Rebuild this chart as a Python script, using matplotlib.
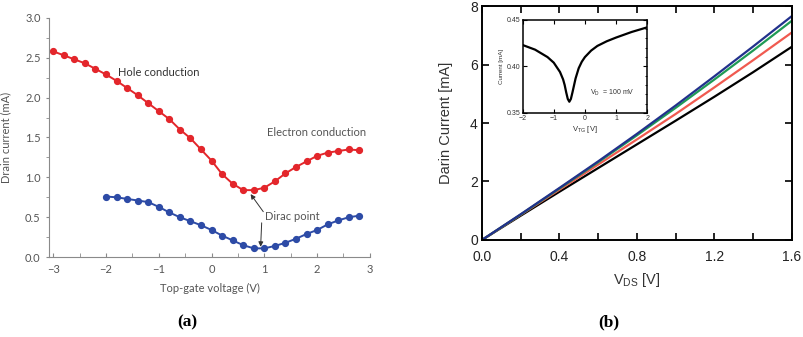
import matplotlib
matplotlib.use("Agg")
import matplotlib.pyplot as plt
from matplotlib.ticker import MultipleLocator
import numpy as np

plt.rcParams["mathtext.default"] = "regular"

# ---- panel (a): drain current vs top-gate voltage ----
vg_red = [-3.0, -2.8, -2.6, -2.4, -2.2, -2.0, -1.8, -1.6, -1.4, -1.2, -1.0,
          -0.8, -0.6, -0.4, -0.2, 0.0, 0.2, 0.4, 0.6, 0.8, 1.0, 1.2, 1.4,
          1.6, 1.8, 2.0, 2.2, 2.4, 2.6, 2.8]
id_red = [2.58, 2.53, 2.48, 2.43, 2.36, 2.29, 2.21, 2.12, 2.03, 1.93, 1.83,
          1.73, 1.60, 1.49, 1.35, 1.21, 1.04, 0.92, 0.84, 0.84, 0.87, 0.95,
          1.05, 1.13, 1.20, 1.27, 1.31, 1.33, 1.35, 1.34]
vg_blue = [-2.0, -1.8, -1.6, -1.4, -1.2, -1.0, -0.8, -0.6, -0.4, -0.2, 0.0,
           0.2, 0.4, 0.6, 0.8, 1.0, 1.2, 1.4, 1.6, 1.8, 2.0, 2.2, 2.4, 2.6, 2.8]
id_blue = [0.76, 0.75, 0.73, 0.71, 0.69, 0.63, 0.56, 0.50, 0.45, 0.40, 0.34,
           0.27, 0.21, 0.15, 0.11, 0.11, 0.14, 0.18, 0.23, 0.29, 0.34, 0.41,
           0.46, 0.50, 0.52]

# ---- panel (b): I-V curves ----
vds = [0.0, 0.2, 0.4, 0.6, 0.8, 1.0, 1.2, 1.4, 1.6]
id_black = [0.0, 0.83, 1.65, 2.46, 3.27, 4.08, 4.90, 5.74, 6.61]
id_salmon = [0.0, 0.86, 1.72, 2.58, 3.44, 4.31, 5.22, 6.15, 7.10]
id_green = [0.0, 0.87, 1.76, 2.66, 3.58, 4.52, 5.49, 6.48, 7.50]
id_navy = [0.0, 0.88, 1.78, 2.69, 3.63, 4.60, 5.60, 6.62, 7.66]

# inset: current vs V_TG
vtg = [-2.0, -1.6, -1.2, -1.0, -0.8, -0.7, -0.65, -0.6, -0.55, -0.5, -0.45,
       -0.4, -0.3, -0.2, -0.1, 0.0, 0.2, 0.4, 0.7, 1.0, 1.5, 2.0]
i_inset = [0.423, 0.418, 0.410, 0.404, 0.394, 0.386, 0.380, 0.372, 0.365,
           0.362, 0.365, 0.372, 0.387, 0.398, 0.405, 0.410, 0.417, 0.422,
           0.427, 0.431, 0.437, 0.442]

gray_txt = "#555555"
spine_gray = "#8a8a8a"
font_a = "Lato"
font_b = "Liberation Sans"

fig = plt.figure(figsize=(8.04, 3.37), dpi=100)

# ---------------- (a) ----------------
ax = fig.add_axes([0.061, 0.237, 0.399, 0.710])
ax.plot(vg_red, id_red, "-o", color="#e3262b", lw=1.4, ms=4.2)
ax.plot(vg_blue, id_blue, "-o", color="#2d4ba6", lw=1.4, ms=4.2)
ax.set_xlim(-3.08, 3.0)
ax.set_ylim(0, 3.0)
for s in ["top", "right"]:
    ax.spines[s].set_visible(False)
for s in ["left", "bottom"]:
    ax.spines[s].set_color(spine_gray)
    ax.spines[s].set_linewidth(0.8)
ax.xaxis.set_major_locator(MultipleLocator(1))
ax.xaxis.set_minor_locator(MultipleLocator(0.5))
ax.yaxis.set_major_locator(MultipleLocator(0.5))
ax.yaxis.set_minor_locator(MultipleLocator(0.25))
ax.tick_params(axis="x", which="both", direction="in", length=3,
               color=spine_gray, labelcolor=gray_txt, labelsize=8, pad=5)
ax.tick_params(axis="y", which="both", direction="out", length=2.5,
               color=spine_gray, labelcolor=gray_txt, labelsize=8)
ax.yaxis.set_major_formatter(plt.FormatStrFormatter("%.1f"))
for lab in ax.get_xticklabels() + ax.get_yticklabels():
    lab.set_family(font_a)
ax.set_xlabel("Top-gate voltage (V)", family=font_a, fontsize=8,
              color=gray_txt, labelpad=6)
ax.set_ylabel("Drain current (mA)", family=font_a, fontsize=8,
              color=gray_txt, labelpad=10)
ax.text(-1.77, 2.32, "Hole conduction", family=font_a, fontsize=8,
        color="#333333", va="center")
ax.text(1.05, 1.56, "Electron conduction", family=font_a, fontsize=8,
        color=gray_txt, va="center")
ax.text(1.02, 0.51, "Dirac point", family=font_a, fontsize=8,
        color=gray_txt, va="center")
ax.annotate("", xy=(0.74, 0.79), xytext=(0.98, 0.57),
            arrowprops=dict(arrowstyle="-|>", color="#333333", lw=0.7,
                            mutation_scale=7, shrinkA=0, shrinkB=0))
ax.annotate("", xy=(0.93, 0.13), xytext=(0.95, 0.43),
            arrowprops=dict(arrowstyle="-|>", color="#333333", lw=0.7,
                            mutation_scale=7, shrinkA=0, shrinkB=0))

# ---------------- (b) ----------------
bx = fig.add_axes([0.5995, 0.288, 0.3855, 0.694])
bx.plot(vds, id_black, color="black", lw=1.6)
bx.plot(vds, id_salmon, color="#f05a50", lw=1.6)
bx.plot(vds, id_green, color="#1f9a55", lw=1.6)
bx.plot(vds, id_navy, color="#22318c", lw=1.6)
bx.set_xlim(0, 1.6)
bx.set_ylim(0, 8)
for s in bx.spines.values():
    s.set_linewidth(1.4)
bx.xaxis.set_major_locator(MultipleLocator(0.4))
bx.xaxis.set_minor_locator(MultipleLocator(0.2))
bx.yaxis.set_major_locator(MultipleLocator(2))
bx.tick_params(which="both", direction="in", top=True, right=True,
               length=5, width=1.2, labelsize=10)
bx.tick_params(axis="x", which="both", pad=7)
bx.tick_params(axis="y", pad=3)
bx.xaxis.set_major_formatter(plt.FormatStrFormatter("%.1f"))
for lab in bx.get_xticklabels() + bx.get_yticklabels():
    lab.set_family(font_b)
    lab.set_color("#222222")
bx.set_xlabel("V$_{DS}$ [V]", family=font_b, fontsize=10.5,
              color="#333333", labelpad=5)
bx.set_ylabel("Darin Current [mA]", family=font_b, fontsize=10.5,
              color="#333333", labelpad=12)

# inset
ix = fig.add_axes([0.650, 0.665, 0.155, 0.276])
ix.plot(vtg, i_inset, color="black", lw=1.6)
ix.set_xlim(-2, 2)
ix.set_ylim(0.35, 0.45)
for s in ix.spines.values():
    s.set_linewidth(1.1)
ix.xaxis.set_major_locator(MultipleLocator(1))
ix.yaxis.set_major_locator(MultipleLocator(0.05))
ix.yaxis.set_minor_locator(MultipleLocator(0.01))
ix.tick_params(which="major", direction="in", top=True, right=True,
               length=3, width=0.8, labelsize=5, pad=1.5)
ix.tick_params(which="minor", direction="in", right=True, left=False,
               length=1.5, width=0.6)
ix.yaxis.set_major_formatter(plt.FormatStrFormatter("%.2f"))
for lab in ix.get_xticklabels() + ix.get_yticklabels():
    lab.set_family(font_b)
    lab.set_color("#333333")
ix.set_xlabel("V$_{TG}$ [V]", family=font_b, fontsize=5.5, labelpad=1.5,
              color="#333333")
ix.set_ylabel("Current [mA]", family=font_b, fontsize=4.5, labelpad=2,
              color="#333333")
ix.text(0.15, 0.371, "V$_D$  = 100 mV", family=font_b, fontsize=5,
        color="#333333", va="center")

# captions
fig.text(187 / 804, 1 - 322 / 337, "(a)", family="Liberation Serif",
         fontweight="bold", fontsize=12.5, ha="center", va="center")
fig.text(609 / 804, 1 - 322 / 337, "(b)", family="Liberation Serif",
         fontweight="bold", fontsize=12.5, ha="center", va="center")

fig.savefig("out.png", dpi=100)
